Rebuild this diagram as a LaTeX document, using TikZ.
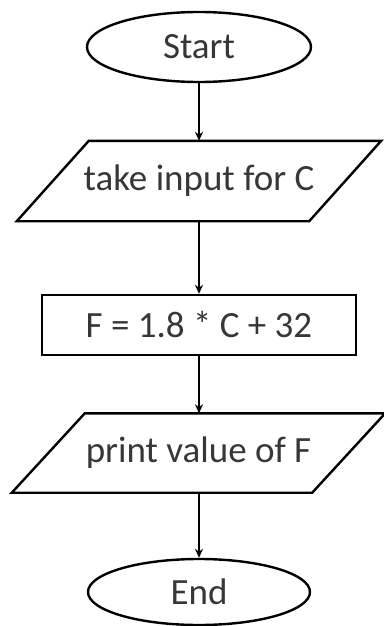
\documentclass[tikz,border=0pt]{standalone}
\usepackage{fontspec}
\setmainfont{Carlito}
\usepackage{xcolor}
\usepackage{tikz}
\usetikzlibrary{arrows.meta, shapes.geometric}
\definecolor{flowtext}{RGB}{55,55,55}

\begin{document}
\begin{tikzpicture}[x=1pt, y=-1pt,
    every node/.style={font=\fontsize{37}{41}\selectfont, text=flowtext, line width=2.4pt, inner sep=0pt},
    terminal/.style={ellipse, draw},
    iobox/.style={rectangle},
    procbox/.style={rectangle, draw},
    slantline/.style={line width=2.4pt, line join=miter},
    flow/.style={-{Stealth[length=9pt, width=8pt]}, line width=2.4pt}]
            \useasboundingbox (0,0) rectangle (383,626);
            \node[terminal, minimum width=224pt, minimum height=70pt] (start) at (199,47) {Start};
            \node[iobox, minimum width=290pt, minimum height=78pt] (input) at (199,181) {take input for C};
            \node[procbox, minimum width=314pt, minimum height=60pt] (calc) at (199,325) {F = 1.8 * C + 32};
            \node[iobox, minimum width=298pt, minimum height=77pt] (output) at (198.5,453) {print value of F};
            \node[terminal, minimum width=222pt, minimum height=66pt] (stop) at (199,592) {End};
            % slanted input/output boxes
            \draw[slantline] ([xshift=-36pt]input.south west) -- ([xshift=36pt]input.north west)
                -- ([xshift=36pt]input.north east) -- ([xshift=-36pt]input.south east) -- cycle;
            \draw[slantline] ([xshift=-36.5pt]output.south west) -- ([xshift=36.5pt]output.north west)
                -- ([xshift=36.5pt]output.north east) -- ([xshift=-36.5pt]output.south east) -- cycle;
            \draw[flow] (start) -- (input);
            \draw[flow] (input) -- (calc);
            \draw[flow] (calc) -- (calc |- output.north);
            \draw[flow] (stop |- output.south) -- (stop);
        \end{tikzpicture}
\end{document}
